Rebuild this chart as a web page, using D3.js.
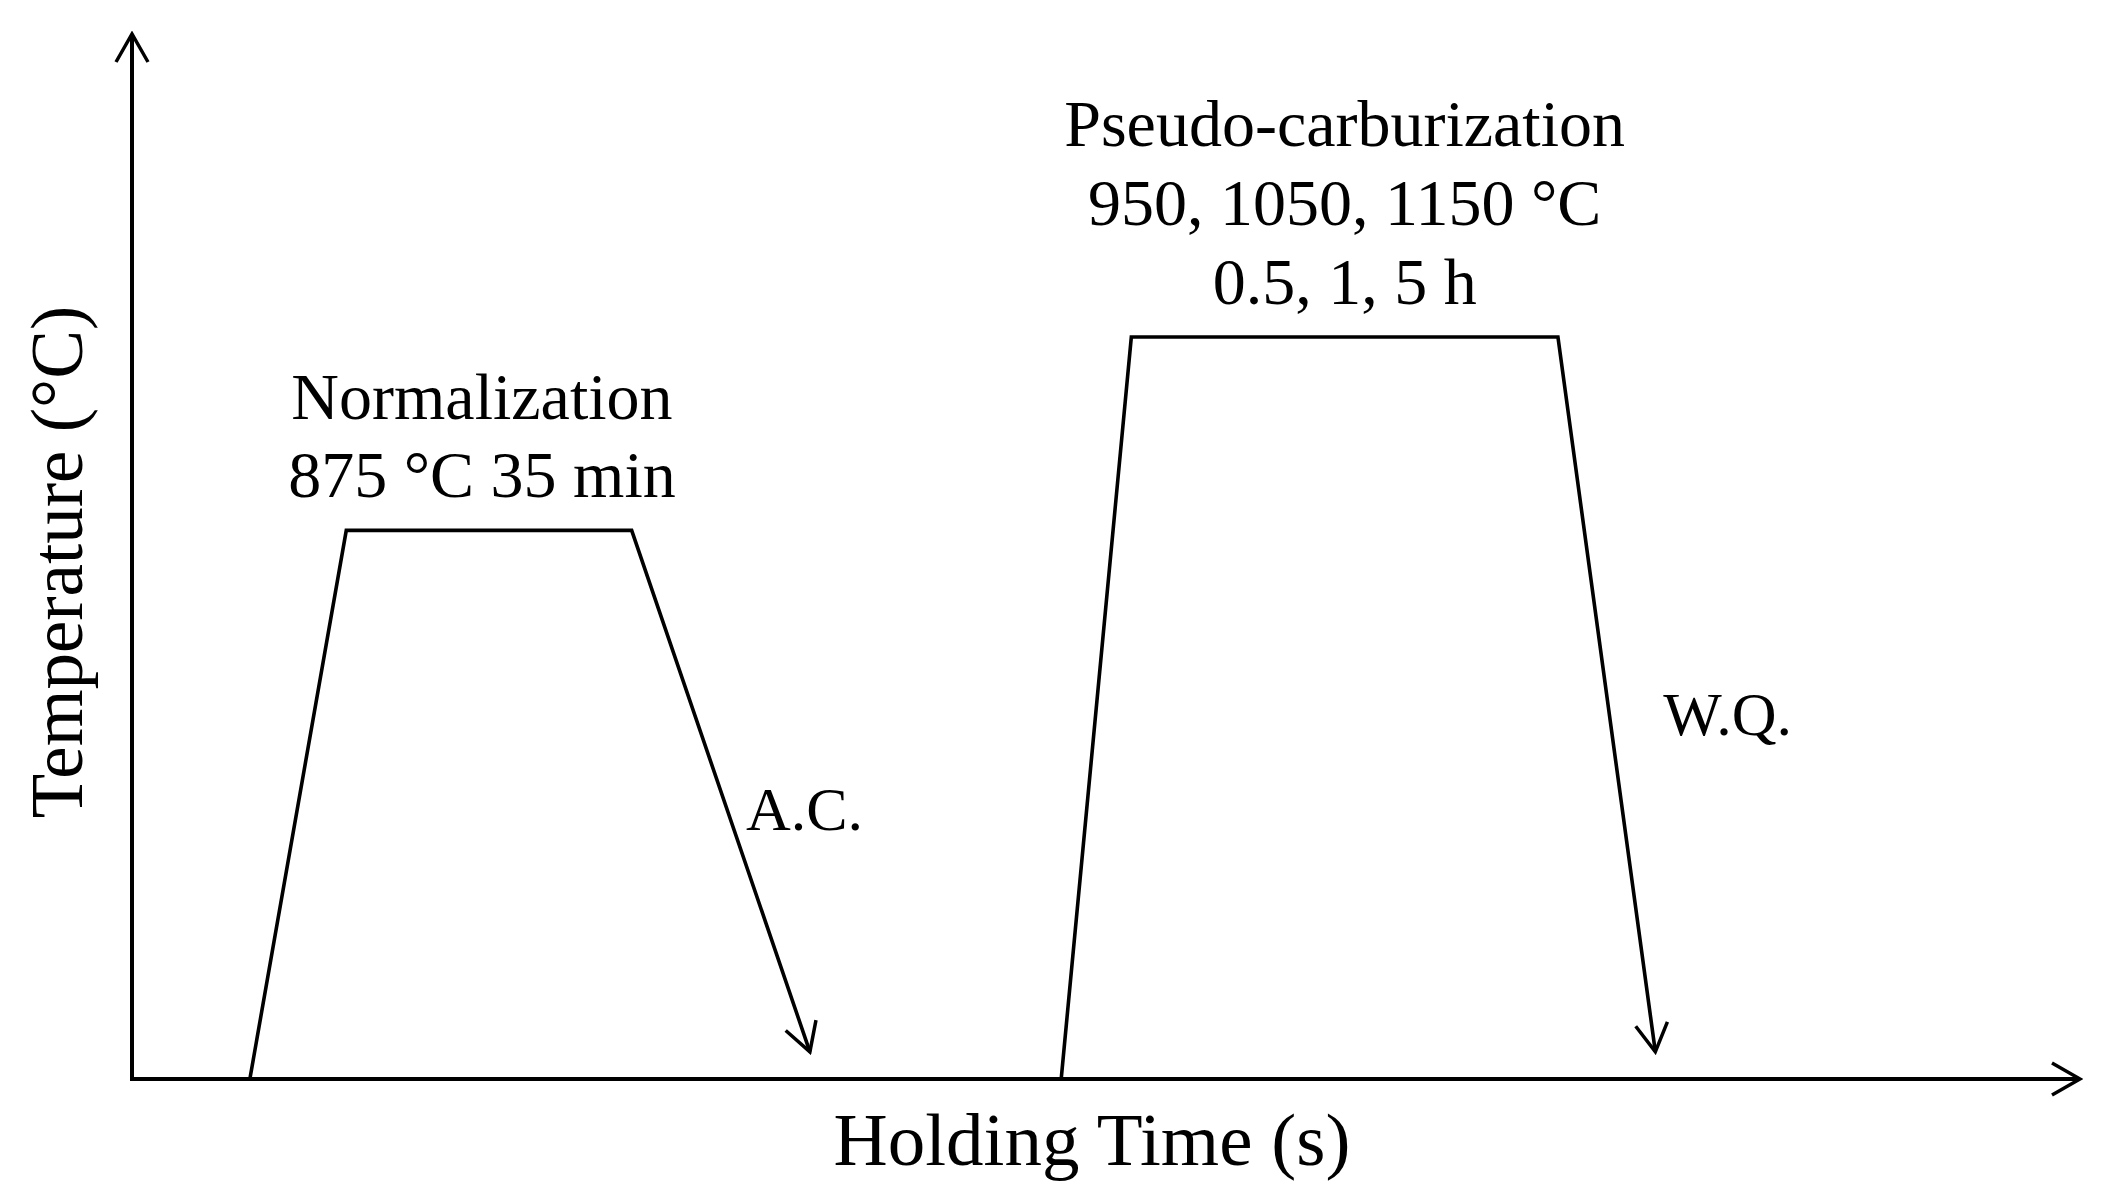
<!DOCTYPE html>
<html>
<head>
<meta charset="utf-8">
<script src="https://cdn.jsdelivr.net/npm/d3@7"></script>
<style>
  body { margin: 0; background: #fff; }
  svg { display: block; }
  text { font-family: "Liberation Serif", "Times New Roman", serif; fill: #000; }
</style>
</head>
<body>
<div id="chart"></div>
<script>
// schematic heat-treatment schedule (arbitrary units)
const normTime = [6.05, 11.0, 25.65, 34.8];
const normTemp = [0, 52.5, 52.5, 2.6];
const pseudoTime = [47.7, 51.3, 73.2, 78.2];
const pseudoTemp = [0, 71.0, 71.0, 2.6];

const normLabel = ['Normalization', '875 °C 35 min'];
const pseudoLabel = ['Pseudo-carburization', '950, 1050, 1150 °C', '0.5, 1, 5 h'];
const coolLabels = ['A.C.', 'W.Q.'];
const xTitle = 'Holding Time (s)';
const yTitle = 'Temperature (°C)';

let width = 2107,
    height = 1202,
    margin = {left: 132, top: 34, right: 27, bottom: 123};

let svg = d3.select('#chart').append('svg')
    .attr('width', width)
    .attr('height', height);

let xScale = d3.scaleLinear()
    .domain([0, 100])
    .range([margin.left, width - margin.right]);

let yScale = d3.scaleLinear()
    .domain([0, 100])
    .range([height - margin.bottom, margin.top]);

let defs = svg.append('defs');

defs.append('marker')
    .attr('id', 'open-arrow')
    .attr('viewBox', '-32 -18 35 36')
    .attr('refX', 0)
    .attr('refY', 0)
    .attr('markerWidth', 35)
    .attr('markerHeight', 36)
    .attr('markerUnits', 'userSpaceOnUse')
    .attr('orient', 'auto')
    .append('path')
    .attr('d', 'M-28,-16 L0,0 L-28,16')
    .attr('fill', 'none')
    .attr('stroke', '#000')
    .attr('stroke-width', 3.5);

// axes drawn as plain arrows, no ticks
let axes_g = svg.append('g').attr('class', 'axes');

axes_g.append('line')
    .attr('x1', xScale(0)).attr('y1', yScale(0))
    .attr('x2', xScale(0)).attr('y2', yScale(100))
    .attr('stroke', '#000')
    .attr('stroke-width', 4)
    .attr('marker-end', 'url(#open-arrow)');

axes_g.append('line')
    .attr('x1', xScale(0) - 2).attr('y1', yScale(0))
    .attr('x2', xScale(100)).attr('y2', yScale(0))
    .attr('stroke', '#000')
    .attr('stroke-width', 4)
    .attr('marker-end', 'url(#open-arrow)');

let line = d3.line()
    .x(d => xScale(d[0]))
    .y(d => yScale(d[1]));

let steps = [
    d3.zip(normTime, normTemp),
    d3.zip(pseudoTime, pseudoTemp)
];

svg.append('g')
    .attr('class', 'steps')
    .selectAll('path')
    .data(steps)
    .join('path')
    .attr('d', line)
    .attr('fill', 'none')
    .attr('stroke', '#000')
    .attr('stroke-width', 3.6)
    .attr('stroke-linejoin', 'miter')
    .attr('marker-end', 'url(#open-arrow)');

// labels above each holding stage
function stageLabel(lines, time, temp, gap, shift) {
    let cx = (xScale(time[1]) + xScale(time[2])) / 2 + shift,
        top = yScale(temp[1]);
    svg.append('g')
        .selectAll('text')
        .data(lines)
        .join('text')
        .attr('x', cx)
        .attr('y', (d, i) => top - 33 - (lines.length - 1 - i) * gap)
        .attr('text-anchor', 'middle')
        .style('font-size', '66px')
        .text(d => d);
}

stageLabel(normLabel, normTime, normTemp, 78, -7);
stageLabel(pseudoLabel, pseudoTime, pseudoTemp, 79, 0);

// cooling labels next to the descending lines
let coolPos = [
    {x: xScale(normTime[3]) - 64, y: yScale(normTemp[3]) - 222},
    {x: xScale(pseudoTime[3]) + 8, y: yScale(pseudoTemp[3]) - 317}
];

svg.append('g')
    .selectAll('text')
    .data(coolLabels)
    .join('text')
    .attr('x', (d, i) => coolPos[i].x)
    .attr('y', (d, i) => coolPos[i].y)
    .style('font-size', '62px')
    .text(d => d);

svg.append('text')
    .attr('x', 1092)
    .attr('y', 1165)
    .attr('text-anchor', 'middle')
    .style('font-size', '75px')
    .text(xTitle);

svg.append('text')
    .attr('transform', 'translate(82, 562) rotate(-90)')
    .attr('text-anchor', 'middle')
    .style('font-size', '73px')
    .text(yTitle);
</script>
</body>
</html>
